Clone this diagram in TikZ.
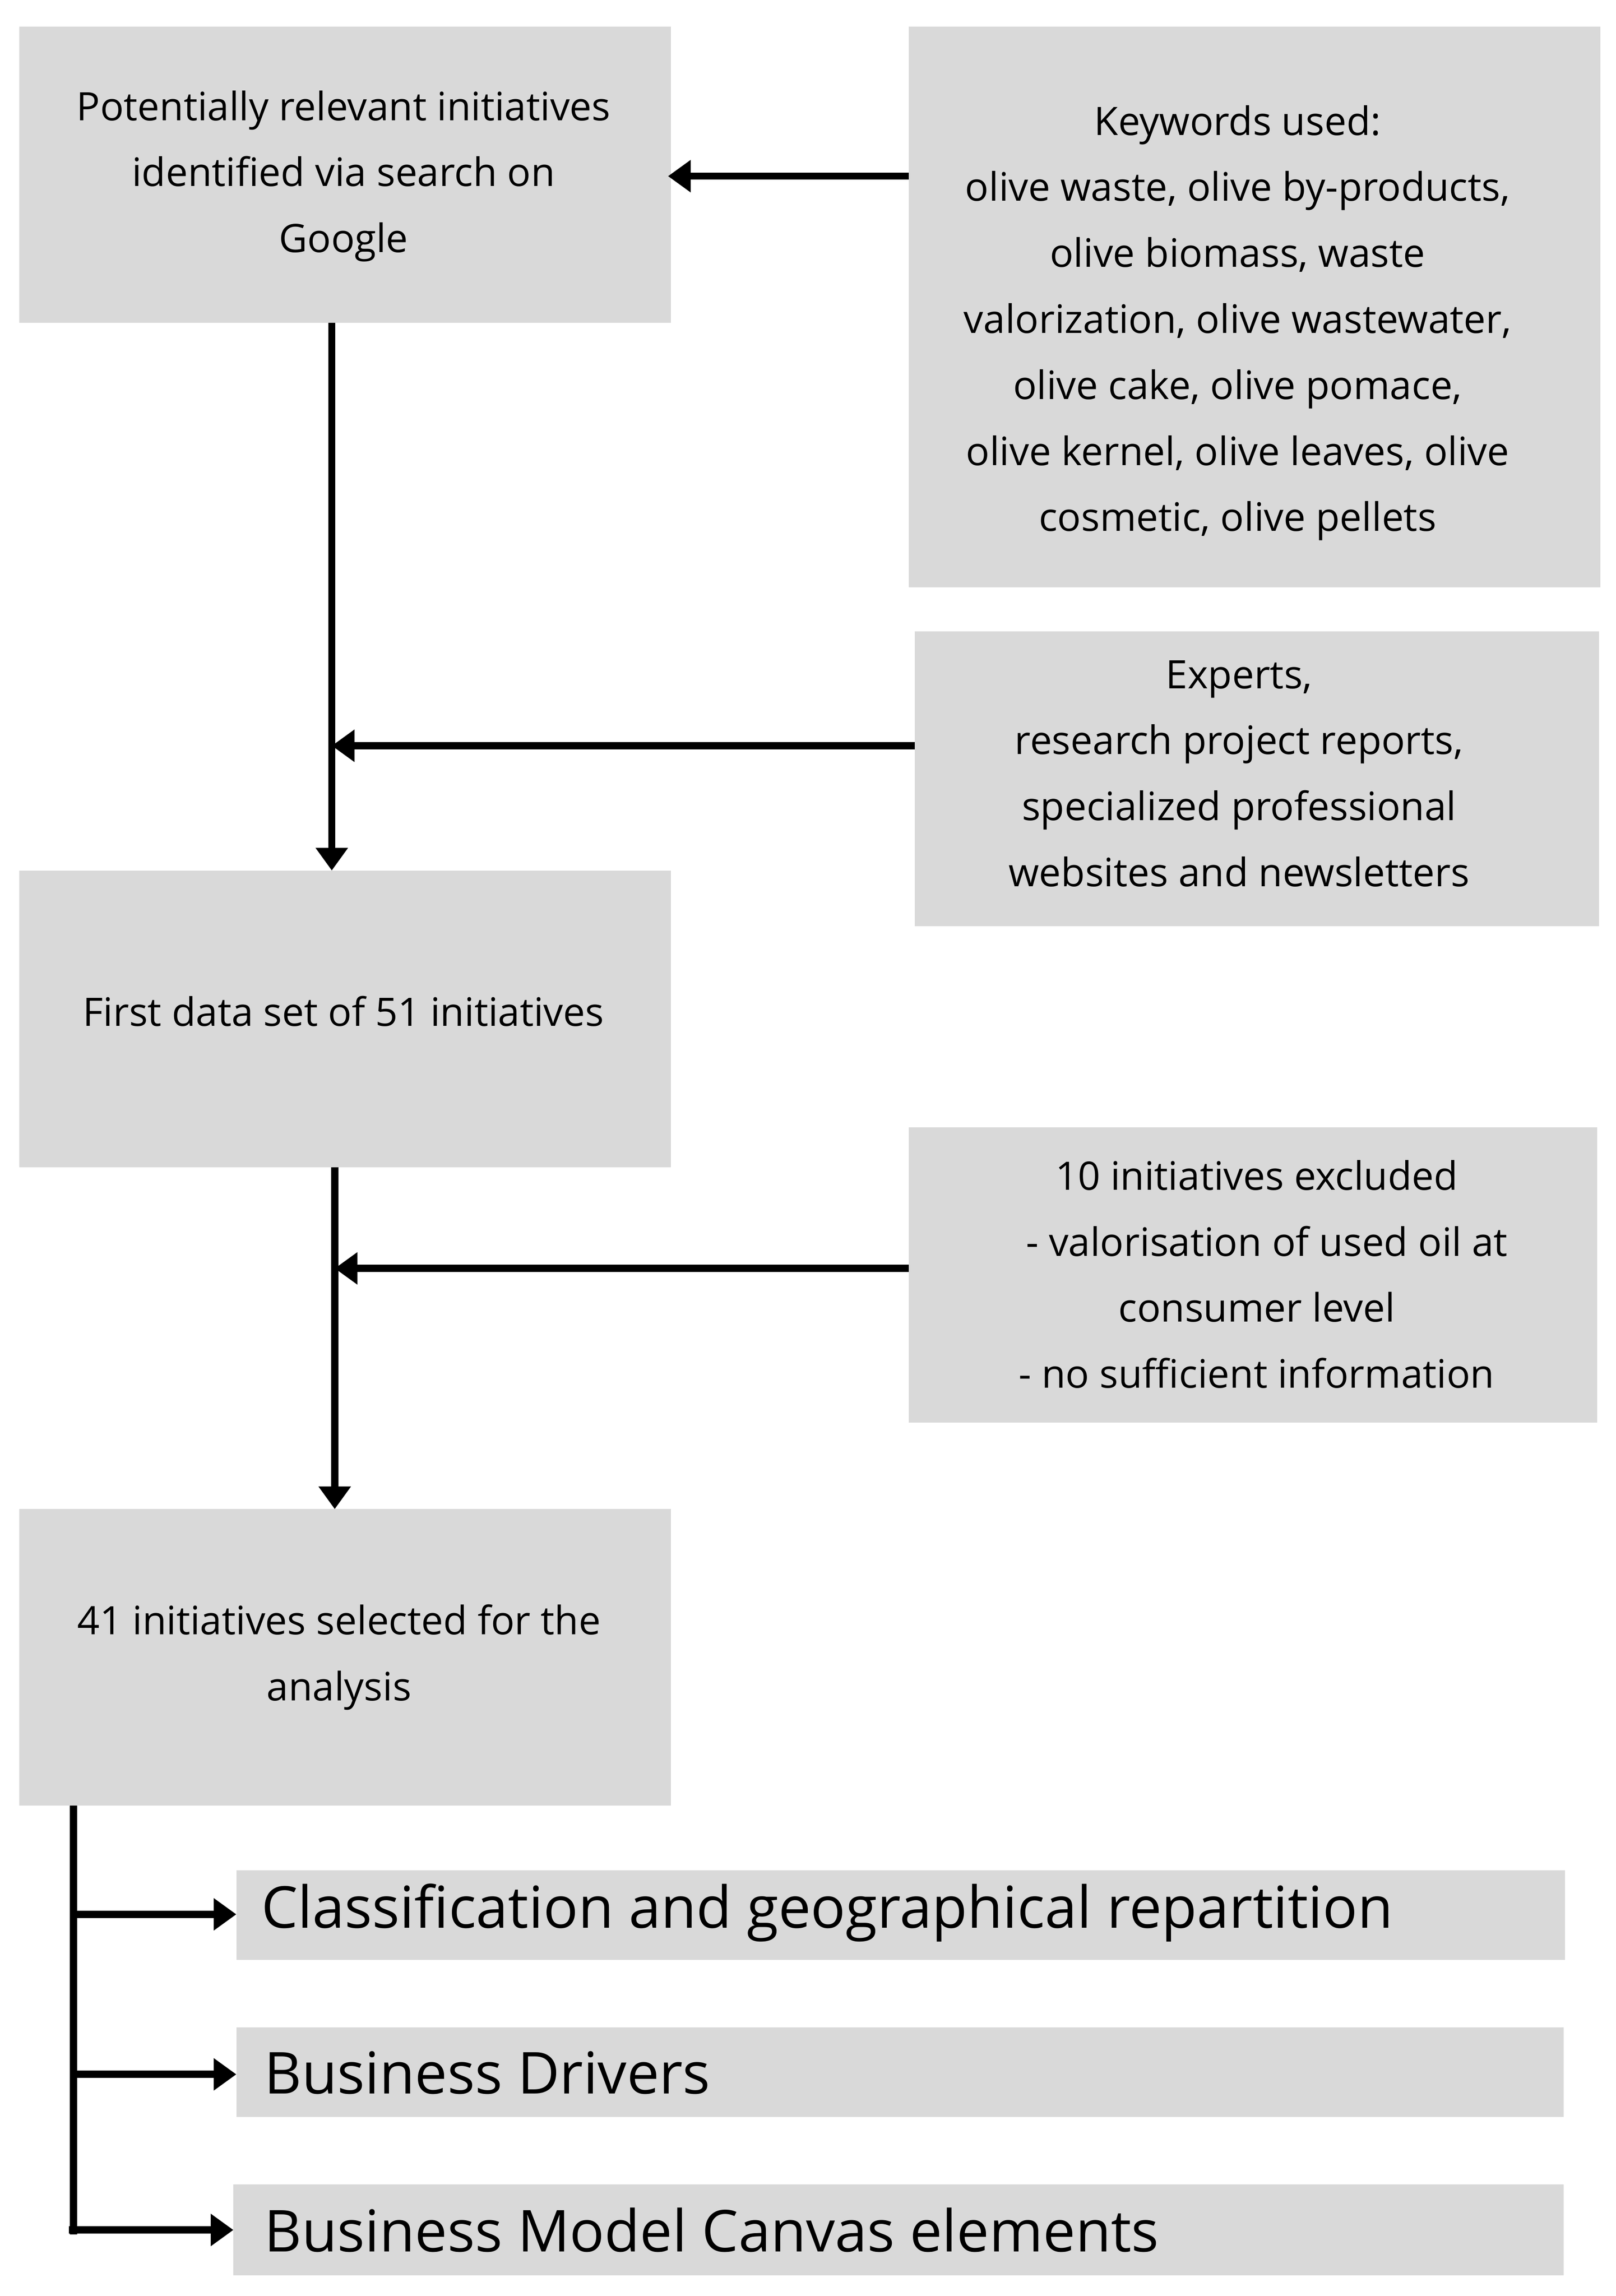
\documentclass[tikz,border=0pt]{standalone}
\usepackage{fontspec}
\setmainfont{Open Sans}
\usetikzlibrary{arrows.meta}
\definecolor{bx}{HTML}{D9D9D9}
\begin{document}
\begin{tikzpicture}[x=0.05cm,y=-0.05cm,
 box/.style={fill=bx,draw=none},
 txt/.style={align=center,font=\fontsize{38}{64}\selectfont,inner sep=0},
 big/.style={anchor=west,font=\fontsize{56}{64}\selectfont,inner sep=0},
 arr/.style={line width=7pt,-{Triangle[length=22pt,width=30pt]}},
 ln/.style={line width=7pt}]
\useasboundingbox (0,0) rectangle (1100.6,1564);
\fill[box] (13,18) rectangle (457,220) coordinate (A2);
\node[txt] (A) at (234,120) {Potentially relevant initiatives\\identified via search on\\Google};
\fill[box] (619,18) rectangle (1090,400);
\node[txt] (K) at (843,220) {Keywords used:\\olive waste, olive by-products,\\olive biomass, waste\\valorization, olive wastewater,\\olive cake, olive pomace,\\olive kernel, olive leaves, olive\\cosmetic, olive pellets};
\fill[box] (623,430) rectangle (1089,631);
\node[txt] (E) at (844,527) {Experts,\\research project reports,\\specialized professional\\websites and newsletters};
\fill[box] (13,593) rectangle (457,795);
\node[txt] (F) at (234,689) {First data set of 51 initiatives};
\fill[box] (619,768) rectangle (1088,969);
\node[txt] (X) at (856,868) {10 initiatives excluded\\\ \ - valorisation of used oil at\\consumer level\\- no sufficient information};
\fill[box] (13,1028) rectangle (457,1230);
\node[txt] (S) at (231,1129) {41 initiatives selected for the\\analysis};
\fill[box] (161,1274) rectangle (1066,1335);
\node[big] (C1) at (178,1303) {Classification and geographical repartition};
\fill[box] (161,1381) rectangle (1065,1442);
\node[big] (C2) at (180,1412) {Business Drivers};
\fill[box] (159,1488) rectangle (1065,1550);
\node[big] (C3) at (180,1519) {Business Model Canvas elements};
\coordinate (k1) at (619,120); \coordinate (a1) at (455,120);
\draw[arr] (k1) -- (a1);
\coordinate (v1) at (226,220); \coordinate (v2) at (226,593);
\draw[arr] (v1) -- (v2);
\coordinate (e1) at (623,508); \coordinate (e2) at (226,508);
\draw[arr] (e1) -- (e2);
\coordinate (w1) at (228,795); \coordinate (w2) at (228,1028);
\draw[arr] (w1) -- (w2);
\coordinate (x1) at (619,864); \coordinate (x2) at (228,864);
\draw[arr] (x1) -- (x2);
\coordinate (b0) at (50,1230); \coordinate (b3) at (50,1522);
\draw[ln] (b0) -- (b3);
\coordinate (p1) at (50,1304); \coordinate (q1) at (161,1304);
\coordinate (p2) at (50,1413); \coordinate (q2) at (161,1413);
\coordinate (p3) at (47,1519); \coordinate (q3) at (159,1519);
\draw[arr] (p1) -- (q1);
\draw[arr] (p2) -- (q2);
\draw[arr] (p3) -- (q3);
\end{tikzpicture}
\end{document}
